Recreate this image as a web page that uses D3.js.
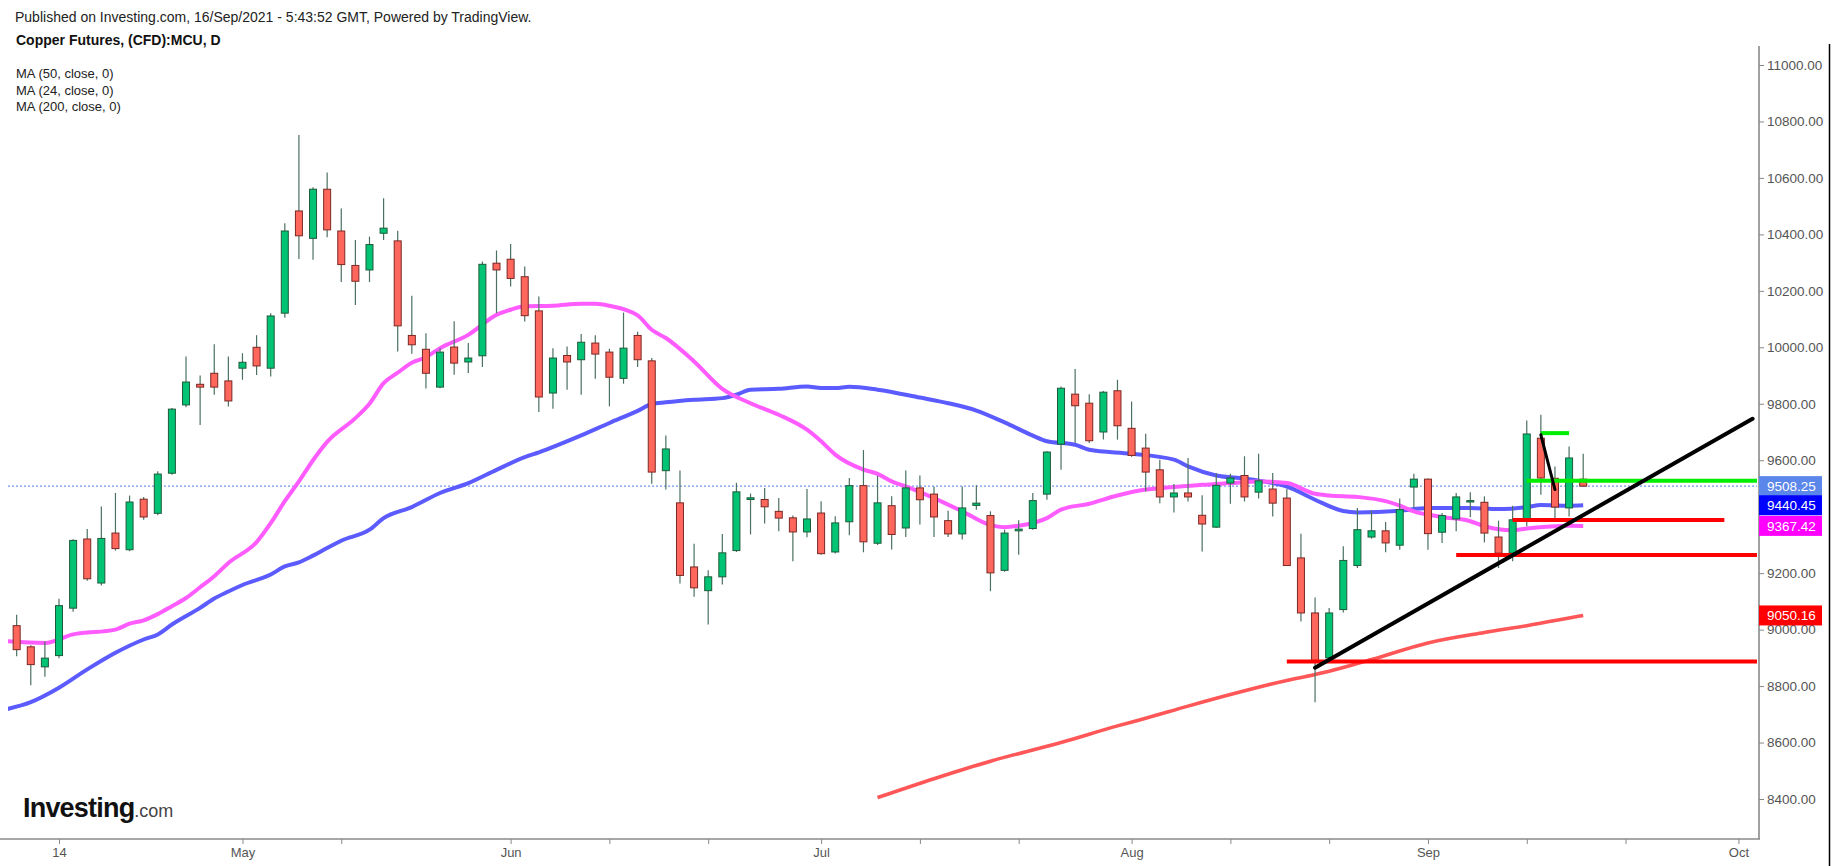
<!DOCTYPE html>
<html>
<head>
<meta charset="utf-8">
<script src="https://cdnjs.cloudflare.com/ajax/libs/d3/7.8.5/d3.min.js"></script>
<style>
html, body { margin: 0; padding: 0; background: #fff; }
svg { display: block; font-family: "Liberation Sans", Arial, sans-serif; }
</style>
</head>
<body>
<div id="root"></div>
<script>
// daily candles, LME trading days
const candleDates = [
  "2021-04-09","2021-04-12","2021-04-13","2021-04-14","2021-04-15","2021-04-16","2021-04-19","2021-04-20","2021-04-21","2021-04-22","2021-04-23","2021-04-26","2021-04-27","2021-04-28","2021-04-29","2021-04-30",
  "2021-05-04","2021-05-05","2021-05-06","2021-05-07","2021-05-10","2021-05-11","2021-05-12","2021-05-13","2021-05-14","2021-05-17","2021-05-18","2021-05-19","2021-05-20","2021-05-21","2021-05-24","2021-05-25","2021-05-26","2021-05-27","2021-05-28",
  "2021-06-01","2021-06-02","2021-06-03","2021-06-04","2021-06-07","2021-06-08","2021-06-09","2021-06-10","2021-06-11","2021-06-14","2021-06-15","2021-06-16","2021-06-17","2021-06-18","2021-06-21","2021-06-22","2021-06-23","2021-06-24","2021-06-25","2021-06-28","2021-06-29","2021-06-30",
  "2021-07-01","2021-07-02","2021-07-05","2021-07-06","2021-07-07","2021-07-08","2021-07-09","2021-07-12","2021-07-13","2021-07-14","2021-07-15","2021-07-16","2021-07-19","2021-07-20","2021-07-21","2021-07-22","2021-07-23","2021-07-26","2021-07-27","2021-07-28","2021-07-29","2021-07-30",
  "2021-08-02","2021-08-03","2021-08-04","2021-08-05","2021-08-06","2021-08-09","2021-08-10","2021-08-11","2021-08-12","2021-08-13","2021-08-16","2021-08-17","2021-08-18","2021-08-19","2021-08-20","2021-08-23","2021-08-24","2021-08-25","2021-08-26","2021-08-27","2021-08-31",
  "2021-09-01","2021-09-02","2021-09-03","2021-09-06","2021-09-07","2021-09-08","2021-09-09","2021-09-10","2021-09-13","2021-09-14","2021-09-15","2021-09-16"
];
const leadDates = ["2021-04-08"];
const futureDates = ["2021-09-17","2021-09-20","2021-09-21","2021-09-22","2021-09-23","2021-09-24","2021-09-27","2021-09-28","2021-09-29","2021-09-30","2021-10-01","2021-10-04","2021-10-05"];

const openVals = [
  9014,8939,8868,8908,9076,9321,9165,9342,9283,9462,9412,9554,9796,9869,9908,9881,
  9926,10000,9926,10121,10483,10386,10560,10412,10290,10274,10404,10377,10042,9993,9859,10001,9948,9970,10298,
  10312,10250,10129,9838,9971,9956,10015,9983,9890,10042,9952,9563,9449,9222,9138,9187,9280,9461,9461,9419,9396,9346,
  9413,9275,9382,9510,9306,9439,9360,9502,9480,9386,9339,9440,9404,9210,9350,9358,9480,9657,9834,9802,9700,9846,
  9713,9643,9566,9470,9484,9405,9363,9519,9546,9487,9498,9466,9254,9059,8900,9071,9227,9328,9350,9299,9505,
  9533,9345,9392,9452,9451,9328,9271,9383,9678,9536,9431,9533
];
const highVals = [
  9053,8945,8959,9109,9320,9356,9436,9484,9475,9470,9561,9785,9967,9900,10011,9967,
  9979,10043,10121,10439,10752,10567,10619,10492,10380,10392,10528,10413,10183,10050,9997,10092,10015,10304,10343,
  10366,10286,10180,9997,10003,10047,10043,9995,10123,10055,9962,9688,9564,9304,9210,9339,9520,9482,9502,9466,9404,9498,
  9455,9402,9537,9636,9545,9472,9564,9546,9507,9421,9507,9511,9419,9354,9387,9484,9632,9861,9923,9834,9845,9885,
  9808,9694,9602,9516,9608,9476,9555,9552,9614,9623,9555,9498,9340,9114,9077,9295,9431,9422,9381,9464,9552,
  9535,9413,9484,9487,9472,9386,9439,9741,9761,9578,9649,9623
];
const lowVals = [
  8906,8803,8833,8899,9063,9173,9156,9280,9278,9389,9405,9549,9788,9725,9832,9790,
  9885,9902,9897,10105,10313,10310,10390,10231,10150,10231,10380,9985,9977,9854,9855,9903,9909,9930,10121,
  10215,10091,9771,9782,9850,9832,9889,9791,9871,9930,9517,9496,9163,9116,9018,9160,9275,9337,9376,9348,9242,9327,
  9265,9270,9334,9274,9300,9284,9328,9372,9328,9328,9319,9425,9136,9205,9265,9354,9460,9566,9661,9661,9673,9673,
  9612,9490,9448,9415,9454,9277,9360,9446,9454,9464,9401,9225,9029,8743,8895,9061,9218,9322,9274,9283,9431,
  9283,9307,9348,9398,9309,9218,9242,9366,9478,9387,9401,9505
];
const closeVals = [
  8929,8876,8899,9085,9316,9180,9323,9287,9452,9399,9551,9781,9877,9859,9859,9810,
  9947,9934,10111,10412,10395,10560,10416,10293,10234,10364,10422,10076,10009,9908,9983,9944,9962,10294,10274,
  10244,10112,9824,9962,9948,10018,9976,9894,9997,9956,9558,9640,9192,9148,9187,9272,9488,9467,9435,9395,9346,9392,
  9269,9378,9510,9311,9449,9337,9502,9460,9399,9339,9431,9448,9201,9342,9356,9457,9629,9855,9793,9669,9841,9722,
  9617,9558,9470,9484,9470,9374,9511,9537,9470,9527,9448,9227,9059,8888,9059,9245,9354,9350,9307,9425,9533,
  9340,9404,9470,9457,9342,9271,9389,9693,9537,9434,9608,9508.25
];

// moving averages
const ma24Dates = ["2021-04-08","2021-04-13","2021-04-15","2021-04-20","2021-04-21","2021-04-22","2021-04-23","2021-04-26","2021-04-27","2021-04-28","2021-04-29","2021-04-30","2021-05-05","2021-05-06","2021-05-07","2021-05-10","2021-05-11","2021-05-12","2021-05-14","2021-05-17","2021-05-18","2021-05-19","2021-05-20","2021-05-21","2021-05-24","2021-05-26","2021-05-28","2021-06-01","2021-06-02","2021-06-04","2021-06-08","2021-06-09","2021-06-10","2021-06-14","2021-06-15","2021-06-16","2021-06-18","2021-06-22","2021-06-24","2021-06-28","2021-06-30","2021-07-01","2021-07-02","2021-07-06","2021-07-07","2021-07-08","2021-07-09","2021-07-13","2021-07-15","2021-07-19","2021-07-20","2021-07-21","2021-07-23","2021-07-26","2021-07-28","2021-07-30","2021-08-03","2021-08-05","2021-08-09","2021-08-11","2021-08-13","2021-08-17","2021-08-19","2021-08-20","2021-08-24","2021-08-26","2021-08-27","2021-08-31","2021-09-02","2021-09-06","2021-09-07","2021-09-09","2021-09-10","2021-09-15","2021-09-16"];
const ma24Vals = [8960,8953,8983,9000,9021,9033,9055,9083,9112,9150,9189,9236,9310,9377,9455,9525,9600,9665,9749,9800,9873,9910,9945,9965,9997,10044,10115,10133,10145,10147,10154,10154,10147,10113,10062,10033,9950,9853,9802,9761,9708,9667,9620,9567,9552,9525,9507,9466,9419,9370,9363,9368,9395,9425,9446,9475,9496,9505,9513,9519,9525,9519,9481,9475,9470,9455,9439,9419,9399,9384,9366,9352,9358,9368,9367.42];

const ma50Dates = ["2021-04-08","2021-04-12","2021-04-14","2021-04-16","2021-04-20","2021-04-22","2021-04-23","2021-04-26","2021-04-28","2021-04-29","2021-04-30","2021-05-04","2021-05-06","2021-05-07","2021-05-10","2021-05-11","2021-05-12","2021-05-13","2021-05-17","2021-05-18","2021-05-20","2021-05-24","2021-05-26","2021-05-28","2021-06-02","2021-06-03","2021-06-08","2021-06-10","2021-06-14","2021-06-15","2021-06-16","2021-06-18","2021-06-22","2021-06-23","2021-06-24","2021-06-28","2021-06-30","2021-07-01","2021-07-02","2021-07-05","2021-07-07","2021-07-12","2021-07-14","2021-07-16","2021-07-20","2021-07-22","2021-07-23","2021-07-27","2021-07-28","2021-08-02","2021-08-05","2021-08-06","2021-08-10","2021-08-12","2021-08-16","2021-08-17","2021-08-19","2021-08-23","2021-08-24","2021-08-27","2021-09-01","2021-09-06","2021-09-08","2021-09-10","2021-09-13","2021-09-15","2021-09-16"];
const ma50Vals = [8715,8743,8794,8859,8918,8965,8983,9018,9077,9110,9135,9158,9195,9224,9238,9262,9289,9315,9354,9395,9434,9484,9519,9566,9611,9628,9688,9732,9775,9799,9805,9814,9820,9832,9850,9853,9861,9856,9856,9860,9850,9822,9802,9776,9734,9687,9667,9655,9637,9623,9602,9578,9546,9535,9519,9507,9460,9420,9415,9421,9431,9431,9427,9434,9441,9439,9440.45];

const ma200Dates = ["2021-07-07","2021-07-13","2021-07-19","2021-07-26","2021-07-30","2021-08-03","2021-08-06","2021-08-11","2021-08-17","2021-08-19","2021-08-23","2021-08-25","2021-09-01","2021-09-07","2021-09-10","2021-09-15","2021-09-16"];
const ma200Vals = [8405,8472,8534,8600,8659,8686,8729,8770,8820,8841,8866,8894,8953,8990,9014,9041,9050.16];

// hand-drawn levels and trend lines
const levelStart = ["2021-09-10","2021-09-13","2021-09-09","2021-09-03","2021-08-17"];
const levelEnd   = ["2021-10-05","2021-09-15","2021-09-30","2021-10-05","2021-10-05"];
const levelPrice = [9527, 9696, 9388, 9264, 8887];
const trendStart = ["2021-08-19","2021-09-13"];
const trendStartPrice = [8865, 9690];
const trendEnd = ["2021-10-04","2021-09-14"];
const trendEndPrice = [9747, 9496];

const priceTicks = [8400,8600,8800,9000,9200,9400,9600,9800,10000,10200,10400,10600,10800,11000];
const tickDates = ["2021-04-14","2021-05-04","2021-06-01","2021-07-01","2021-08-02","2021-09-01","2021-10-01"];
const tickLabels = ["14","May","Jun","Jul","Aug","Sep","Oct"];
const minorTickDates = ["2021-05-13","2021-06-10","2021-06-21","2021-07-12","2021-07-21","2021-08-11","2021-08-20","2021-09-10","2021-09-21"];

const lastPrice = 9508.25;
const maLabels = ["MA (50, close, 0)", "MA (24, close, 0)", "MA (200, close, 0)"];

// layout
const w = 1837, h = 866;
const plotLeft = 8, plotRight = 1757, plotTop = 46, plotBottom = 839;
const axisX = 1759;
const step = 14.113;
const levelColors = ["#00ee00", "#00ee00", "#ff0000", "#ff0000", "#ff0000"];

const allDates = leadDates.concat(candleDates, futureDates);
const x0 = 59 - allDates.indexOf("2021-04-14") * step;
const xScale = d3.scalePoint()
    .domain(allDates)
    .range([x0, x0 + (allDates.length - 1) * step]);

const yScale = d3.scaleLinear()
    .domain([8400, 11000])
    .range([799, 65]);

const svg = d3.select("#root")
    .append("svg")
    .attr("width", w)
    .attr("height", h);

svg.append("rect").attr("width", w).attr("height", h).attr("fill", "#fff");

svg.append("defs").append("clipPath")
    .attr("id", "plotclip")
    .append("rect")
    .attr("x", plotLeft)
    .attr("y", plotTop)
    .attr("width", plotRight - plotLeft)
    .attr("height", plotBottom - plotTop);

const plot = svg.append("g").attr("clip-path", "url(#plotclip)");

// last price dotted line
plot.append("line")
    .attr("x1", plotLeft).attr("x2", plotRight)
    .attr("y1", yScale(lastPrice)).attr("y2", yScale(lastPrice))
    .attr("stroke", "#7396ee")
    .attr("stroke-width", 1.2)
    .attr("stroke-dasharray", "2,2");

// moving averages
const maLine = d3.line()
    .x(d => xScale(d[0]))
    .y(d => yScale(d[1]))
    .curve(d3.curveMonotoneX);

const maSeries = [
    {dates: ma200Dates, vals: ma200Vals, color: "#ff5757", width: 3.6},
    {dates: ma50Dates, vals: ma50Vals, color: "#5b5bff", width: 4},
    {dates: ma24Dates, vals: ma24Vals, color: "#ff5cff", width: 4}
];
maSeries.forEach(s => {
    plot.append("path")
        .datum(s.dates.map((d, i) => [d, s.vals[i]]))
        .attr("fill", "none")
        .attr("stroke", s.color)
        .attr("stroke-width", s.width)
        .attr("stroke-linejoin", "round")
        .attr("d", maLine);
});

// candles
const candles = candleDates.map((d, i) => ({
    date: d, o: openVals[i], hi: highVals[i], lo: lowVals[i], c: closeVals[i]
}));

const cg = plot.selectAll("g.candle")
    .data(candles)
    .enter()
    .append("g")
    .attr("class", "candle");

cg.append("line")
    .attr("x1", d => xScale(d.date))
    .attr("x2", d => xScale(d.date))
    .attr("y1", d => yScale(d.hi))
    .attr("y2", d => yScale(d.lo))
    .attr("stroke", "#4b7160")
    .attr("stroke-width", 1.2);

cg.append("rect")
    .attr("x", d => xScale(d.date) - 3.5)
    .attr("width", 7)
    .attr("y", d => yScale(Math.max(d.o, d.c)))
    .attr("height", d => Math.max(1, Math.abs(yScale(d.o) - yScale(d.c))))
    .attr("fill", d => d.c >= d.o ? "#00c473" : "#ff675d")
    .attr("stroke", d => d.c >= d.o ? "#1e5a3b" : "#7a2824")
    .attr("stroke-width", 1);

// drawn levels
levelPrice.forEach((p, i) => {
    plot.append("line")
        .attr("x1", xScale(levelStart[i]))
        .attr("x2", xScale(levelEnd[i]))
        .attr("y1", yScale(p))
        .attr("y2", yScale(p))
        .attr("stroke", levelColors[i])
        .attr("stroke-width", 4);
});

trendStart.forEach((d, i) => {
    plot.append("line")
        .attr("x1", xScale(d))
        .attr("y1", yScale(trendStartPrice[i]))
        .attr("x2", xScale(trendEnd[i]))
        .attr("y2", yScale(trendEndPrice[i]))
        .attr("stroke", "#000")
        .attr("stroke-width", i === 0 ? 4 : 3)
        .attr("stroke-linecap", "round");
});

// x-axis
const xAxis = d3.axisBottom(xScale)
    .tickValues(tickDates.concat(minorTickDates))
    .tickSize(5)
    .tickFormat(d => {
        const k = tickDates.indexOf(d);
        return k >= 0 ? tickLabels[k] : "";
    });
const gx = svg.append("g")
    .attr("transform", "translate(0," + plotBottom + ")")
    .call(xAxis);
gx.select(".domain").remove();
gx.selectAll(".tick line").attr("stroke", "#888");
gx.selectAll(".tick text")
    .attr("y", 9)
    .attr("fill", "#555")
    .style("font-size", "13px")
    .style("font-family", "'Liberation Sans', Arial, sans-serif");

svg.append("line")
    .attr("x1", 0).attr("x2", axisX + 1)
    .attr("y1", plotBottom).attr("y2", plotBottom)
    .attr("stroke", "#8a8a8a")
    .attr("stroke-width", 1.6);

// price tags on the axis
const tags = [
    {v: lastPrice, color: "#5b86ea"},
    {v: ma50Vals[ma50Vals.length - 1], color: "#0000ff"},
    {v: ma24Vals[ma24Vals.length - 1], color: "#ff00ff"},
    {v: ma200Vals[ma200Vals.length - 1], color: "#ff0000"}
];

// y-axis; a label sitting right under a tag is hidden as in the original
const yAxis = d3.axisRight(yScale)
    .tickValues(priceTicks)
    .tickSize(5)
    .tickPadding(3)
    .tickFormat(d => tags.some(t => Math.abs(yScale(t.v) - yScale(d)) < 12) ? "" : d3.format(".2f")(d));
const gy = svg.append("g")
    .attr("transform", "translate(" + axisX + ",0)")
    .call(yAxis);
gy.select(".domain").remove();
gy.selectAll(".tick line").attr("stroke", "#888");
gy.selectAll(".tick text")
    .attr("fill", "#555")
    .style("font-size", "13.5px")
    .style("font-family", "'Liberation Sans', Arial, sans-serif");

svg.append("line")
    .attr("x1", axisX).attr("x2", axisX)
    .attr("y1", plotTop).attr("y2", plotBottom)
    .attr("stroke", "#8a8a8a")
    .attr("stroke-width", 1.6);

const tg = svg.selectAll("g.tag")
    .data(tags)
    .enter()
    .append("g")
    .attr("class", "tag");
tg.append("rect")
    .attr("x", axisX)
    .attr("y", d => yScale(d.v) - 10)
    .attr("width", 63)
    .attr("height", 20)
    .attr("fill", d => d.color);
tg.append("text")
    .attr("x", axisX + 8)
    .attr("y", d => yScale(d.v) + 5)
    .attr("fill", "#fff")
    .style("font-size", "13.5px")
    .text(d => d3.format(".2f")(d.v));

// right frame line
svg.append("line")
    .attr("x1", 1829.5).attr("x2", 1829.5)
    .attr("y1", 44).attr("y2", h)
    .attr("stroke", "#000")
    .attr("stroke-width", 1.5);

// header texts
svg.append("text")
    .attr("x", 15).attr("y", 22)
    .attr("fill", "#222")
    .style("font-size", "14px")
    .text("Published on Investing.com, 16/Sep/2021 - 5:43:52 GMT, Powered by TradingView.");

svg.append("text")
    .attr("x", 16).attr("y", 45)
    .attr("fill", "#111")
    .style("font-size", "14px")
    .style("font-weight", "bold")
    .text("Copper Futures, (CFD):MCU, D");

svg.selectAll("text.ma")
    .data(maLabels)
    .enter()
    .append("text")
    .attr("class", "ma")
    .attr("x", 16)
    .attr("y", (d, i) => 78 + i * 16.5)
    .attr("fill", "#222")
    .style("font-size", "13px")
    .text(d => d);

// logo
const logo = svg.append("text")
    .attr("x", 23).attr("y", 817)
    .attr("fill", "#111");
logo.append("tspan")
    .style("font-size", "27px")
    .style("font-weight", "bold")
    .style("letter-spacing", "-0.8px")
    .text("Investing");
logo.append("tspan")
    .style("font-size", "18px")
    .attr("fill", "#444")
    .text(".com");
</script>
</body>
</html>
